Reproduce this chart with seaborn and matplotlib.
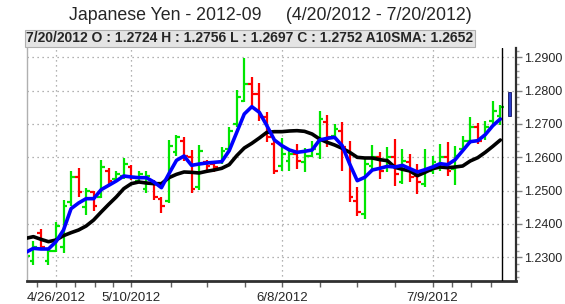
import numpy as np
import pandas as pd
import matplotlib
matplotlib.use("Agg")
import matplotlib.pyplot as plt
import seaborn as sns
from matplotlib.ticker import FixedLocator, FormatStrFormatter, MultipleLocator
from matplotlib.patches import Rectangle

# ---------------- data ----------------
trade_days = [d for d in pd.bdate_range("2012-04-20", "2012-07-20")
              if d not in (pd.Timestamp("2012-05-28"), pd.Timestamp("2012-07-04"))]

open_ = [1.2275, 1.2290, 1.2372, 1.2290, 1.2320, 1.2330, 1.2465, 1.2540, 1.2450, 1.2495,
         1.2480, 1.2560, 1.2535, 1.2545, 1.2570, 1.2530, 1.2505, 1.2525, 1.2475, 1.2470,
         1.2615, 1.2650, 1.2600, 1.2510, 1.2585, 1.2580, 1.2585, 1.2625, 1.2700, 1.2770,
         1.2820, 1.2790, 1.2720, 1.2640, 1.2575, 1.2590, 1.2610, 1.2585, 1.2605, 1.2610,
         1.2705, 1.2665, 1.2680, 1.2620, 1.2470, 1.2430, 1.2575, 1.2600, 1.2570, 1.2600,
         1.2525, 1.2585, 1.2545, 1.2520, 1.2560, 1.2575, 1.2600, 1.2565, 1.2625, 1.2650,
         1.2690, 1.2665, 1.2710, 1.2724]
high = [1.2317, 1.2350, 1.2384, 1.2322, 1.2406, 1.2472, 1.2558, 1.2567, 1.2507, 1.2498,
        1.2592, 1.2567, 1.2558, 1.2598, 1.2576, 1.2558, 1.2558, 1.2531, 1.2481, 1.2652,
        1.2668, 1.2662, 1.2622, 1.2638, 1.2592, 1.2590, 1.2630, 1.2692, 1.2801, 1.2897,
        1.2840, 1.2824, 1.2735, 1.2655, 1.2658, 1.2625, 1.2640, 1.2628, 1.2648, 1.2738,
        1.2726, 1.2700, 1.2705, 1.2650, 1.2511, 1.2600, 1.2638, 1.2615, 1.2630, 1.2655,
        1.2625, 1.2610, 1.2581, 1.2625, 1.2605, 1.2640, 1.2646, 1.2635, 1.2665, 1.2720,
        1.2704, 1.2710, 1.2768, 1.2756]
low = [1.2257, 1.2277, 1.2325, 1.2277, 1.2315, 1.2312, 1.2455, 1.2482, 1.2427, 1.2440,
       1.2478, 1.2521, 1.2526, 1.2536, 1.2531, 1.2522, 1.2492, 1.2471, 1.2434, 1.2464,
       1.2605, 1.2590, 1.2493, 1.2501, 1.2560, 1.2555, 1.2580, 1.2620, 1.2692, 1.2767,
       1.2745, 1.2710, 1.2645, 1.2550, 1.2560, 1.2560, 1.2566, 1.2555, 1.2600, 1.2596,
       1.2630, 1.2655, 1.2560, 1.2465, 1.2423, 1.2416, 1.2555, 1.2536, 1.2555, 1.2513,
       1.2521, 1.2526, 1.2491, 1.2511, 1.2551, 1.2560, 1.2543, 1.2516, 1.2620, 1.2640,
       1.2641, 1.2652, 1.2700, 1.2697]
close = [1.2305, 1.2330, 1.2330, 1.2318, 1.2395, 1.2455, 1.2540, 1.2495, 1.2500, 1.2455,
         1.2570, 1.2530, 1.2550, 1.2580, 1.2540, 1.2550, 1.2545, 1.2480, 1.2455, 1.2635,
         1.2660, 1.2605, 1.2505, 1.2620, 1.2575, 1.2570, 1.2620, 1.2680, 1.2780, 1.2820,
         1.2790, 1.2720, 1.2660, 1.2560, 1.2610, 1.2610, 1.2590, 1.2605, 1.2625, 1.2715,
         1.2660, 1.2685, 1.2630, 1.2480, 1.2435, 1.2580, 1.2600, 1.2560, 1.2600, 1.2550,
         1.2590, 1.2540, 1.2525, 1.2560, 1.2585, 1.2600, 1.2560, 1.2605, 1.2650, 1.2690,
         1.2650, 1.2690, 1.2740, 1.2752]
blue_avg = [1.2315, 1.2327, 1.2325, 1.2325, 1.2347, 1.2382, 1.2446, 1.2463, 1.2476, 1.2476,
            1.2503, 1.2516, 1.2529, 1.2544, 1.2541, 1.2539, 1.2539, 1.2526, 1.2509, 1.2551,
            1.2591, 1.2604, 1.2576, 1.2580, 1.2583, 1.2585, 1.2587, 1.2620, 1.2675, 1.2730,
            1.2752, 1.2735, 1.2695, 1.2652, 1.2635, 1.2622, 1.2615, 1.2618, 1.2622, 1.2652,
            1.2657, 1.2660, 1.2635, 1.2580, 1.2530, 1.2540, 1.2562, 1.2567, 1.2573, 1.2571,
            1.2576, 1.2566, 1.2556, 1.2563, 1.2571, 1.2581, 1.2578, 1.2593, 1.2620, 1.2647,
            1.2650, 1.2668, 1.2695, 1.2715]
sma10 = [1.2357, 1.2362, 1.2354, 1.2347, 1.2352, 1.2365, 1.2374, 1.2382, 1.2394, 1.2412,
         1.2436, 1.2459, 1.2481, 1.2506, 1.2521, 1.2526, 1.2523, 1.2521, 1.2521, 1.2539,
         1.2549, 1.2556, 1.2555, 1.2553, 1.2558, 1.2562, 1.2567, 1.2578, 1.2605, 1.2628,
         1.2642, 1.2658, 1.2675, 1.2677, 1.2677, 1.2679, 1.2680, 1.2678, 1.2670, 1.2655,
         1.2645, 1.2637, 1.2627, 1.2615, 1.2600, 1.2598, 1.2598, 1.2593, 1.2590, 1.2570,
         1.2564, 1.2559, 1.2545, 1.2555, 1.2566, 1.2571, 1.2569, 1.2571, 1.2574, 1.2589,
         1.2599, 1.2615, 1.2633, 1.2652]
label_dates = ["4/26/2012", "5/10/2012", "6/8/2012", "7/9/2012"]
y_ticks = [1.23, 1.24, 1.25, 1.26, 1.27, 1.28, 1.29]

title = "Japanese Yen - 2012-09     (4/20/2012 - 7/20/2012)"
info = "7/20/2012 O : 1.2724 H : 1.2756 L : 1.2697 C : 1.2752 A10SMA: 1.2652"

# ---------------- figure ----------------
sns.set_style("white")
plt.rcParams['font.family'] = ['Liberation Sans', 'DejaVu Sans']

df = pd.DataFrame({"date": trade_days, "open": open_, "high": high, "low": low,
                   "close": close, "blue": blue_avg, "sma10": sma10})
df["i"] = np.arange(len(df))

fig = plt.figure(figsize=(5.65, 3.04), dpi=100)
ax = fig.add_axes([27 / 565, 23 / 304, 489 / 565, 233 / 304])

up = df["close"] >= df["open"]
cols = np.where(up, "#00e600", "#ff0000")
ax.vlines(df["i"], df["low"], df["high"], colors=cols, lw=1.6, zorder=2)
ax.hlines(df["open"], df["i"] - 0.5, df["i"], colors=cols, lw=1.6, zorder=2)
ax.hlines(df["close"], df["i"], df["i"] + 0.5, colors=cols, lw=1.6, zorder=2)

sns.lineplot(data=df, x="i", y="sma10", color="black", lw=2.6, ax=ax, zorder=3)
sns.lineplot(data=df, x="i", y="blue", color="#0000ff", lw=2.6, ax=ax, zorder=4)

ax.axvline(df["i"].iloc[-1] + 0.2, color="black", lw=1.0, zorder=5)

ax.set_xlim(0.15, 65.08)
ax.set_ylim(1.2229, 1.2928)

# x axis ticks
fmt_dates = [f"{d.month}/{d.day}/{d.year}" for d in df["date"]]
major_pos = [fmt_dates.index(s) for s in label_dates]
ax.xaxis.set_major_locator(FixedLocator(major_pos))
ax.set_xticklabels(label_dates)
ax.xaxis.set_minor_locator(FixedLocator([1.5, 6.5, 9.2, 11.6, 19.3, 24.1, 29.1,
                                         39.1, 44, 49, 56.6, 59.1, 61.8]))
ax.tick_params(axis="x", which="both", direction="out", length=4, width=1,
               color="#606060", labelsize=9.5, pad=4, bottom=True)

# y axis on the right
ax.yaxis.tick_right()
ax.yaxis.set_major_locator(FixedLocator(y_ticks))
ax.yaxis.set_major_formatter(FormatStrFormatter("%.4f"))
ax.yaxis.set_minor_locator(MultipleLocator(0.002))
ax.tick_params(axis="y", which="major", right=True, left=False, direction="out",
               length=4, width=1, color="#808080", labelsize=9, pad=2)
ax.tick_params(axis="y", which="minor", right=True, left=False, direction="out",
               length=2, width=1, color="#a0a0a0")

ax.grid(True, axis="y", which="major", ls=(0, (1, 3)), color="#999999", lw=0.9)
ax.grid(True, axis="x", which="major", ls=(0, (1, 3)), color="#999999", lw=0.9)
ax.set_xlabel("")
ax.set_ylabel("")

ax.spines["top"].set_visible(False)
ax.spines["left"].set_color("#b0b0b0")
ax.spines["left"].set_linewidth(1.0)
ax.spines["right"].set_color("#303030")
ax.spines["right"].set_linewidth(1.6)
ax.spines["bottom"].set_color("#303030")
ax.spines["bottom"].set_linewidth(2.0)

# small blue range marker right of the cursor line
ax.add_patch(Rectangle((0.983, 0.709), 0.0058, 0.103, transform=ax.transAxes,
                       facecolor="#2a3fd0", edgecolor="#101060", lw=0.6,
                       clip_on=False, zorder=6))

# title and info bar
fig.text(270 / 565, 1 - 15 / 304, title, ha="center", va="center", fontsize=12.8)
fig.patches.append(Rectangle((25 / 565, 1 - 47 / 304), 450 / 565, 17 / 304,
                             transform=fig.transFigure, facecolor="#e4e4e4",
                             edgecolor="#b0b0b0", lw=0.8))
fig.text(26 / 565, 1 - 38.5 / 304, info, ha="left", va="center", fontsize=10,
         fontweight="bold")

fig.savefig("out.png", dpi=100)
